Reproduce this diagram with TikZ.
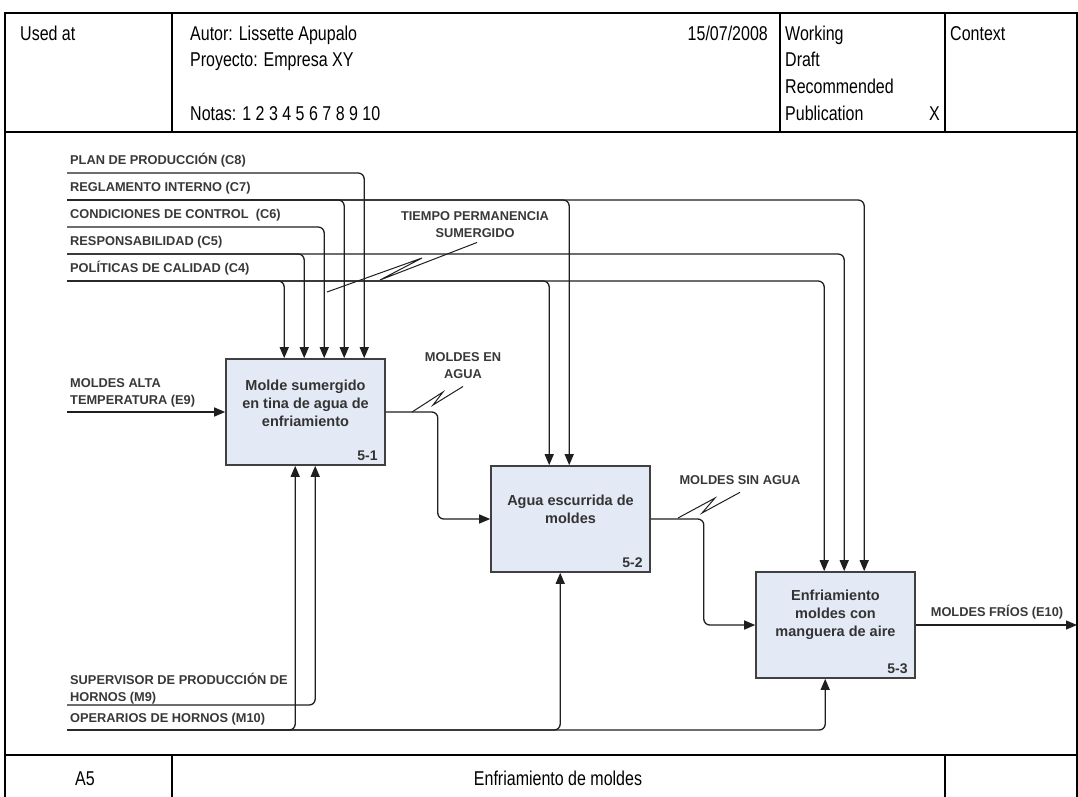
\documentclass[tikz,border=0pt]{standalone}
\usepackage{fontspec}
\setmainfont{Liberation Sans}
\usetikzlibrary{arrows.meta,calc}
\definecolor{boxfill}{HTML}{E4EAF5}
% form texts are set slightly tall
\newcommand\talltxt[1]{\scalebox{1}[1.25]{#1}}
\begin{document}
\begin{tikzpicture}[x=1pt,y=-1pt,
  frameline/.style={line width=2.4pt,black},
  hdr/.style={font=\fontsize{16}{19}\selectfont,inner sep=0pt},
  lbl/.style={font=\fontsize{12.8}{16.5}\selectfont\bfseries,text=black!78,inner sep=0pt,align=left},
  sqlbl/.style={lbl,align=center},
  actbox/.style={draw=black!75,line width=1.6pt,fill=boxfill,minimum width=159pt,minimum height=106pt,inner sep=0pt},
  acttext/.style={font=\fontsize{14.5}{18}\selectfont\bfseries,text=black!80,align=center,inner sep=0pt},
  actid/.style={font=\fontsize{14}{16}\selectfont\bfseries,text=black!80,inner sep=0pt,anchor=base east},
  flow/.style={draw=black!88,line width=1.3pt,rounded corners=6pt},
  arr/.style={flow,-{Triangle[length=11pt,width=9pt]}},
  squig/.style={draw=black!88,line width=1pt}
]
\useasboundingbox (0,0) rectangle (1078,796);

% ---- form frame ----
\draw[frameline] (5,13) rectangle (1077,799);
\draw[frameline] (5,132) -- (1077,132);
\draw[frameline] (172,13) -- (172,132);
\draw[frameline] (780,13) -- (780,132);
\draw[frameline] (945,13) -- (945,132);
\draw[frameline] (5,755) -- (1077,755);
\draw[frameline] (172,755) -- (172,799);
\draw[frameline] (945,755) -- (945,799);

% ---- header texts ----
\node[hdr,anchor=base west] (usedat) at (20,40) {\talltxt{Used at}};
\node[hdr,anchor=base west] (autor) at (190,40) {\talltxt{Autor: Lissette Apupalo}};
\node[hdr,anchor=base west] (proy) at (190,66) {\talltxt{Proyecto: Empresa XY}};
\node[hdr,anchor=base west] (notas) at (190,120) {\talltxt{Notas: 1 2 3 4 5 6 7 8 9 10}};
\node[hdr,anchor=base east] (fecha) at (768,40) {\talltxt{15/07/2008}};
\node[hdr,anchor=base west] (st1) at (785,40) {\talltxt{Working}};
\node[hdr,anchor=base west] (st2) at (785,66) {\talltxt{Draft}};
\node[hdr,anchor=base west] (st3) at (785,93) {\talltxt{Recommended}};
\node[hdr,anchor=base west] (st4) at (785,120) {\talltxt{Publication}};
\node[hdr,anchor=base east] (st4x) at (940,120) {\talltxt{X}};
\node[hdr,anchor=base west] (ctx) at (950,40) {\talltxt{Context}};

% ---- footer texts ----
\node[hdr,anchor=base] (nodeid) at (85,785) {\talltxt{A5}};
\node[hdr,anchor=base] (title) at (558,785) {\talltxt{Enfriamiento de moldes}};

% ---- activity boxes ----
\node[actbox] (b1) at (305.5,412) {};
\node[actbox] (b2) at (570.5,519) {};
\node[actbox] (b3) at (835.5,625) {};
\node[acttext] (t1) at (305.5,403) {Molde sumergido\\en tina de agua de\\enfriamiento};
\node[acttext] (t2) at (570.5,509) {Agua escurrida de\\moldes};
\node[acttext] (t3) at (835.5,615) {Enfriamiento\\moldes con\\manguera de aire};
\node[actid] (id1) at ($(b1.south east)+(-8,-5)$) {5-1};
\node[actid] (id2) at ($(b2.south east)+(-8,-5)$) {5-2};
\node[actid] (id3) at ($(b3.south east)+(-8,-5)$) {5-3};

% ---- controls ----
\coordinate (c8) at (67,173);
\coordinate (c7) at (67,200);
\coordinate (c6) at (67,227);
\coordinate (c5) at (67,254);
\coordinate (c4) at (67,281);
\node[lbl,anchor=base west] (lc8) at (70,164) {PLAN DE PRODUCCIÓN (C8)};
\node[lbl,anchor=base west] (lc7) at (70,191) {REGLAMENTO INTERNO (C7)};
\node[lbl,anchor=base west] (lc6) at (70,218) {CONDICIONES DE CONTROL\ \ (C6)};
\node[lbl,anchor=base west] (lc5) at (70,245) {RESPONSABILIDAD (C5)};
\node[lbl,anchor=base west] (lc4) at (70,272) {POLÍTICAS DE CALIDAD (C4)};

\draw[arr] (c8) -| ($(b1.north west)+(139,0)$);
\draw[arr] (c7) -| ($(b1.north west)+(119,0)$);
\draw[arr] (c7) -| ($(b2.north west)+(79,0)$);
\draw[arr] (c7) -| ($(b3.north west)+(109,0)$);
\draw[arr] (c6) -| ($(b1.north west)+(99,0)$);
\draw[arr] (c5) -| ($(b1.north west)+(79,0)$);
\draw[arr] (c5) -| ($(b3.north west)+(89,0)$);
\draw[arr] (c4) -| ($(b1.north west)+(59,0)$);
\draw[arr] (c4) -| ($(b2.north west)+(59,0)$);
\draw[arr] (c4) -| ($(b3.north west)+(69,0)$);

% ---- input and outputs ----
\coordinate (e9) at (67,412);
\node[lbl,anchor=west] (le9) at (70,393) {MOLDES ALTA\\TEMPERATURA (E9)};
\draw[arr] (e9) -- (b1.west);
\draw[arr] (b1.east) -- ++(52,0) |- (b2.west);
\draw[arr] (b2.east) -- ++(53,0) |- (b3.west);
\coordinate (e10) at (1077,625);
\draw[arr] (b3.east) -- (e10);
\node[lbl] (le10) at (997,612) {MOLDES FRÍOS (E10)};

% ---- mechanisms ----
\coordinate (m9) at (67,705);
\coordinate (m10) at (67,730);
\node[lbl,anchor=west] (lm9) at (70,688.5) {SUPERVISOR DE PRODUCCIÓN DE\\HORNOS (M9)};
\node[lbl,anchor=base west] (lm10) at (70,722) {OPERARIOS DE HORNOS (M10)};
\draw[arr] (m9) -| ($(b1.south west)+(90,0)$);
\draw[arr] (m10) -| ($(b1.south west)+(70,0)$);
\draw[arr] (m10) -| ($(b2.south west)+(70,0)$);
\draw[arr] (m10) -| ($(b3.south west)+(70,0)$);

% ---- arrow labels with squiggles ----
\node[sqlbl] (ltps) at (475,224.5) {TIEMPO PERMANENCIA\\SUMERGIDO};
\coordinate (ptps) at (327,292);
\draw[squig] ($(ltps.south)+(2,5)$) -- (380,280) -- (422,258) -- (ptps);

\node[sqlbl] (lmea) at (463,365.5) {MOLDES EN\\AGUA};
\coordinate (pmea) at (412,412);
\draw[squig] ($(lmea.south)+(0,8)$) -- (433,405) -- (443,392) -- (pmea);

\node[sqlbl,anchor=base] (lmsa) at (740,484) {MOLDES SIN AGUA};
\coordinate (pmsa) at (678,518);
\draw[squig] ($(lmsa.south)+(0,8)$) -- (702,513) -- (715,498) -- (pmsa);
\end{tikzpicture}
\end{document}
